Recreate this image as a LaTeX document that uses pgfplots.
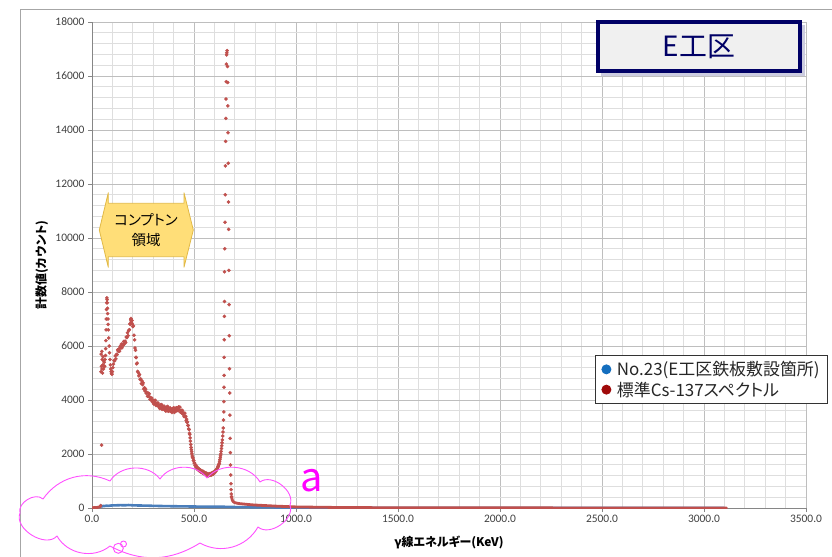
\documentclass[border=0pt]{standalone}
\usepackage{pgfplots}
\pgfplotsset{compat=1.18}
\usepackage{pgfplotstable}
\usepackage{fontspec}
\setmainfont{Carlito}
\newfontfamily\jp{Noto Sans CJK JP}
\newfontfamily\jpp[RawFeature=+palt]{Noto Sans CJK JP}

\definecolor{redpt}{RGB}{192,80,77}
\definecolor{bluept}{RGB}{74,126,187}
\definecolor{legblue}{RGB}{20,110,190}
\definecolor{legred}{RGB}{160,10,10}
\definecolor{navy}{RGB}{0,0,102}
\definecolor{boxgray}{RGB}{240,240,240}
\definecolor{gridmaj}{RGB}{190,190,190}
\definecolor{gridmin}{RGB}{222,222,222}
\definecolor{axisgray}{RGB}{134,134,134}
\definecolor{labelgray}{RGB}{64,64,64}
\definecolor{callfill}{RGB}{255,222,120}
\definecolor{calldraw}{RGB}{225,185,70}
\definecolor{cloudpink}{RGB}{255,80,255}
\definecolor{apink}{RGB}{255,0,255}

% Cs-137 reference spectrum, channel region (energy in keV, counts)
\pgfplotstableread{
E C
42 90
44 5050
45 5700
46 5250
47 2330
48 5800
49 5150
50 5500
51 5000
53 5300
54 5600
56 5150
57 5450
59 5250
60 5400
62 5250
64 5500
66 5650
67 5900
68 6200
69 6600
70 7000
71 7350
72 7600
73 7780
74 7720
75 7600
76 7400
77 7200
78 7000
79 6800
80 6600
82 6300
84 6000
86 5750
88 5500
90 5300
92 5150
94 5050
96 4980
98 4950
100 5050
102 5200
105 5330
108 5467
111 5451
114 5634
117 5527
120 5690
123 5683
126 5857
129 5800
132 5894
135 5809
138 5983
141 5928
144 6072
147 5931
150 6063
153 6025
156 6166
159 6078
162 6180
165 6128
168 6336
171 6314
174 6492
177 6381
180 6570
183 6605
186 6820
188 6800
190 6970
191 7020
192 6930
193 6880
194 6839
196 6942
198 6814
200 6717
203 6746
206 6398
209 6230
211 5925
213 5841
215 5577
217 5574
219 5340
221 5367
224 5059
227 5020
230 4892
233 4944
236 4766
239 4778
242 4609
245 4704
248 4569
251 4634
254 4410
257 4455
260 4330
263 4405
266 4250
269 4286
272 4141
275 4257
278 4143
281 4231
284 4028
287 4095
290 3993
293 4070
296 3931
299 3983
302 3854
305 3985
308 3886
311 3988
314 3799
317 3880
320 3795
323 3890
326 3755
329 3810
332 3685
335 3820
338 3725
341 3830
344 3653
347 3746
350 3670
353 3773
356 3646
359 3709
362 3592
365 3735
368 3649
371 3762
374 3585
377 3680
380 3606
383 3711
386 3587
389 3652
392 3538
395 3683
398 3599
401 3714
404 3540
407 3635
410 3583
413 3710
416 3608
419 3696
422 3604
425 3744
428 3641
431 3738
434 3544
437 3620
440 3527
443 3614
446 3471
449 3518
452 3385
455 3512
458 3377
460 3399
462 3242
464 3295
466 3177
468 3190
470 3059
472 3055
474 2931
476 2906
478 2772
479.5 2724
481 2600
482.5 2476
484 2352
485.5 2244
487 2164
488.5 2085
490 2006
491.5 1926
493 1876
495 1849
497 1761
499 1753
501 1665
503 1658
505 1570
508 1600
511 1500
514 1530
517 1430
520 1470
523 1390
526 1446
529 1362
532 1407
535 1323
538 1378
541 1304
544 1360
547 1276
550 1325
553 1244
556 1302
559 1231
562 1290
565 1189
568 1258
571 1193
574 1270
577 1208
580 1276
583 1214
586 1292
589 1239
592 1317
595 1255
598 1338
601 1301
604 1384
607 1357
610 1429
612 1426
614 1464
616 1502
618 1540
620 1579
622 1617
624 1655
625.5 1724
627 1794
628.5 1863
630 1932
631.5 2002
633 2096
634.5 2202
636 2308
637.5 2414
639 2520
640.5 2667
642 2814
643.5 2961
645 3260
646 3560
646.5 3940
647 4470
647.5 4910
648 5580
648.5 6230
649 7100
649.5 7650
650 8750
651 9600
652 10580
653 11600
654 12670
655 13580
656 14430
657 15150
658 15790
659 16440
660 16780
661 16860
662 16940
664 16350
665 15760
666 14890
667 13900
668 12770
669 11330
670 10320
671 8800
672 7530
673 6380
674 5160
675 4260
676 3440
677 2580
678 2050
679 1590
680 1220
681 900
682 680
683 520
684 420
}\cspeak

% Cs-137 spectrum, low-energy start and high-energy tail
\pgfplotstableread{
E C
0 10
10 15
20 20
30 25
38 40
42 60
}\cslow

\pgfplotstableread{
E C
684 420
686 340
688 290
691 250
695 220
700 200
710 180
720 165
740 150
760 135
780 120
800 110
850 90
900 70
950 55
1000 40
1100 30
1200 20
1300 15
1500 10
1800 6
2000 5
2500 3
3000 2
3110 1
}\cstail

% No.23 measurement
\pgfplotstableread{
E C
40 20
45 90
50 60
55 75
60 70
70 85
80 80
90 90
100 95
120 100
140 105
160 100
180 110
200 100
220 95
250 90
280 85
300 80
330 75
360 70
400 65
450 60
500 55
550 50
600 45
650 45
700 35
800 28
900 20
1000 15
1200 10
1500 6
2000 4
2500 3
3100 2
}\nothree

\begin{document}
\begin{tikzpicture}
\path[use as bounding box] (0bp,0bp) rectangle (832bp,-557bp);
\fill[white] (0bp,0bp) rectangle (832bp,-557bp);
% chart area frame
\draw[black!35, line width=1bp] (20bp,-600bp) -- (20bp,-9.5bp) -- (900bp,-9.5bp);

\begin{axis}[
  at={(92bp,-508bp)}, anchor=south west,
  scale only axis, width=714bp, height=486bp,
  xmin=0, xmax=3500, ymin=0, ymax=18000,
  xtick distance=500, ytick distance=2000,
  minor x tick num=4, minor y tick num=4,
  scaled x ticks=false, scaled y ticks=false,
  grid=both,
  major grid style={draw=gridmaj, line width=0.9bp},
  minor grid style={draw=gridmin, line width=0.7bp},
  axis lines=left, axis line style={-, draw=axisgray, line width=0.9bp},
  tick align=outside, major tick length=4bp, minor tick length=0bp,
  tick style={draw=axisgray, line width=0.9bp},
  /pgf/number format/assume math mode=true,
  x tick label style={/pgf/number format/fixed, /pgf/number format/fixed zerofill,
    /pgf/number format/precision=1, /pgf/number format/1000 sep={}},
  y tick label style={/pgf/number format/fixed, /pgf/number format/1000 sep={}},
  ticklabel style={font=\fontsize{11.5}{12}\selectfont, text=labelgray},
  xlabel={\jpp\bfseries γ線エネルギー(KeV)},
  xlabel style={at={(axis description cs:0.5,-0.07)}, anchor=center, font=\fontsize{12}{14}\selectfont},
  ylabel={\jpp\bfseries 計数値(カウント)},
  ylabel style={at={(axis description cs:-0.0703,0.5)}, anchor=center, rotate=0, font=\fontsize{12}{14}\selectfont},
  legend style={at={(axis description cs:0.7045,0.3148)}, anchor=north west,
    draw=black!80, line width=0.9bp, fill=white, inner xsep=6bp, inner ysep=4bp,
    font=\jpp\fontsize{17}{17}\selectfont, text=black!85, row sep=0.5bp},
  legend cell align=left,
  legend image code/.code={\fill[#1] (4.5bp,0bp) circle (4.5bp);
    \path[draw=none, fill=none] (0bp,-0.1bp) rectangle (13bp,0.1bp);},
]
\addplot[bluept, line width=2.6bp, line join=round, forget plot] table[x=E, y=C] {\nothree};
\addplot[redpt, line width=2.8bp, line cap=round, forget plot] table[x=E, y=C] {\cslow};
\addplot[redpt, line width=2.8bp, line cap=round, line join=round, forget plot] table[x=E, y=C] {\cstail};
\addplot[only marks, mark=*, mark size=1.6bp, draw=redpt, fill=redpt, forget plot] table[x=E, y=C] {\cspeak};
\addlegendimage{legblue}
\addlegendentry{No.23(E工区鉄板敷設箇所)}
\addlegendimage{legred}
\addlegendentry{標準Cs-137スペクトル}
\end{axis}

% title box
\fill[navy!20] (601bp,-25bp) rectangle (805bp,-76bp);
\node[draw=navy, line width=4bp, fill=boxgray, minimum width=202bp, minimum height=49bp,
      inner sep=0pt, font=\jp\fontsize{28}{30}\selectfont, text=navy] at (699bp,-46.5bp) {E工区};

% Compton region arrow
\filldraw[fill=callfill, draw=calldraw, line width=0.8bp, line join=round]
  (99.3bp,-230bp) -- (108.3bp,-192.7bp) -- (108.3bp,-203.3bp) -- (184bp,-203.3bp)
  -- (184bp,-192.7bp) -- (193.3bp,-230bp) -- (184bp,-267.3bp) -- (184bp,-256.7bp)
  -- (108.3bp,-256.7bp) -- (108.3bp,-267.3bp) -- cycle;
\node[font=\jpp\fontsize{14.5}{20}\selectfont, align=center, text=black] at (146bp,-230bp) {コンプトン\\領域};

% cloud note around the low-count region
\draw[cloudpink, line width=0.9bp, line join=round]
  (20bp,-513bp) to[bend left=75] (43bp,-499bp)
  to[bend left=40] (110bp,-481bp)
  to[bend left=55] (160bp,-479bp)
  to[bend left=55] (207bp,-478bp)
  to[bend left=55] (260bp,-482bp)
  to[bend left=75] (290bp,-505bp)
  to[bend left=75] (258bp,-527bp)
  to[bend left=45] (200bp,-543bp)
  to[bend left=30] (110bp,-546bp)
  to[bend left=50] (57bp,-536bp)
  to[bend left=80] cycle;
\draw[cloudpink, line width=0.9bp] (118.3bp,-548.3bp) circle (5bp);
\draw[cloudpink, line width=0.9bp] (123.5bp,-544bp) circle (3bp);
\node[text=apink, font=\jp\fontsize{40}{40}\selectfont, inner sep=0pt] at (312bp,-481bp) {a};
\end{tikzpicture}
\end{document}
